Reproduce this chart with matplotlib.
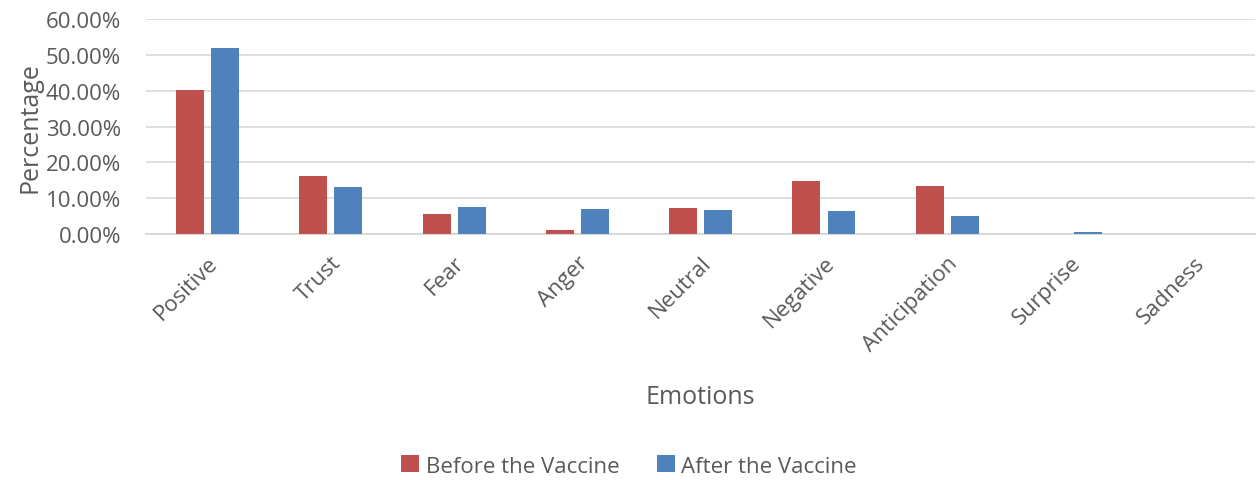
import matplotlib
matplotlib.use("Agg")
import matplotlib.pyplot as plt
import numpy as np
from matplotlib.ticker import FuncFormatter

plt.rcParams['font.family'] = ['Open Sans', 'DejaVu Sans']

categories = ["Positive", "Trust", "Fear", "Anger", "Neutral", "Negative",
              "Anticipation", "Surprise", "Sadness"]
before = [40.2, 16.3, 5.7, 1.2, 7.2, 14.9, 13.5, 0.0, 0.0]
after = [51.8, 13.1, 7.5, 7.0, 6.6, 6.3, 4.9, 0.65, 0.0]

red = "#C0504D"
blue = "#4F81BD"
txt = "#595959"

fig = plt.figure(figsize=(12.58, 4.81), dpi=100)
ax = fig.add_axes([0.116, 1 - 235/481, 0.998 - 0.116, (235 - 20)/481])

x = np.arange(len(categories))
w = 0.227
gap = 0.057
ax.bar(x - (w + gap)/2, np.array(before)/100, w, color=red, label="Before the Vaccine", zorder=3)
ax.bar(x + (w + gap)/2, np.array(after)/100, w, color=blue, label="After the Vaccine", zorder=3)

ax.set_xlim(-0.5, len(categories) - 0.5)
ax.set_ylim(0, 0.6)
ax.set_yticks(np.arange(0, 0.61, 0.1))
ax.yaxis.set_major_formatter(FuncFormatter(lambda v, p: f"{v*100:.2f}%"))
ax.grid(axis='y', color="#D9D9D9", linewidth=1.2, zorder=0)
for s in ["top", "right", "left"]:
    ax.spines[s].set_visible(False)
ax.spines["bottom"].set_color("#D9D9D9")
ax.spines["bottom"].set_linewidth(1.5)
ax.tick_params(axis='both', length=0, colors=txt, labelsize=16)
ax.tick_params(axis='y', pad=18)
ax.tick_params(axis='x', pad=13)
ax.set_xticks(x)
ax.set_xticklabels(categories, rotation=45, ha='right', rotation_mode='anchor', color=txt)
ax.set_ylabel("Percentage", fontsize=18, color=txt, labelpad=2)
ax.set_xlabel("Emotions", fontsize=18, color=txt, labelpad=21)

fig.legend(loc='center', bbox_to_anchor=(0.5, 1 - 467/481), ncol=2, frameon=False,
           fontsize=16, labelcolor=txt, handlelength=0.8, handleheight=0.8,
           handletextpad=0.3, columnspacing=1.7)

fig.savefig("out.png", dpi=100)
